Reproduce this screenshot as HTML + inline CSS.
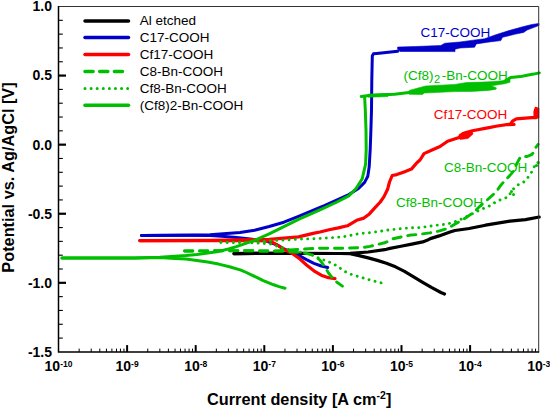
<!DOCTYPE html>
<html><head><meta charset="utf-8"><style>html,body{margin:0;padding:0;background:#fff;width:550px;height:410px;overflow:hidden}svg{display:block}</style></head>
<body>
<svg width="550" height="410" viewBox="0 0 550 410">
<rect width="550" height="410" fill="#fff"/>
<g><polyline points="234.0,253.6 270.0,253.3 340.0,253.5 350.0,253.6 359.1,255.6 368.2,257.9 377.3,260.4 386.4,263.2 395.5,266.8 404.5,271.4 413.6,276.8 422.7,282.3 431.8,287.7 440.9,292.5 444.5,294.0" fill="none" stroke="#000000" stroke-width="3.2" stroke-linejoin="round" stroke-linecap="round" />
<polyline points="234.0,253.6 270.0,253.3 340.0,253.5 350.0,253.3 368.2,252.0 386.4,249.3 390.0,248.4 400.9,246.3 411.8,244.1 422.7,241.9 427.1,240.3 430.3,238.6 439.1,235.9 450.0,232.1 455.0,230.5 469.1,228.5 485.5,225.2 510.0,221.1 525.5,219.6 539.2,217.0" fill="none" stroke="#000000" stroke-width="3.2" stroke-linejoin="round" stroke-linecap="round" />
<polyline points="141.4,235.6 180.0,235.3 210.0,235.6 221.8,236.2 236.4,237.6 248.0,238.8 265.0,240.6 277.3,245.0 284.6,249.2 291.9,252.3 299.2,255.6 306.5,259.6 313.9,263.3 321.2,266.0 327.7,267.5" fill="none" stroke="#0000c8" stroke-width="3.0" stroke-linejoin="round" stroke-linecap="round" />
<polyline points="141.4,235.6 180.0,235.2 210.0,234.8 240.0,232.4 254.6,230.2 269.2,226.5 283.9,222.2 298.5,216.3 320.0,207.3 324.4,205.6 348.8,194.6 358.5,188.5 364.6,182.4 367.8,176.3 369.2,166.6 370.2,149.5 370.9,130.0 371.5,110.0 371.8,80.0 372.3,56.0 373.4,53.8 379.1,53.2 397.6,51.3" fill="none" stroke="#0000c8" stroke-width="3.0" stroke-linejoin="round" stroke-linecap="round" />
<polygon points="397.6,47.1 415.5,46.5 440.9,45.5 444.7,43.3 460.0,42.0 471.4,40.4 484.5,38.8 495.9,34.7 509.0,30.6 523.7,26.5 531.9,24.5 539.0,23.4 539.0,25.4 533.6,27.6 527.0,30.1 523.7,32.4 515.6,34.1 502.5,37.3 500.8,40.6 487.7,42.2 476.3,43.9 474.6,47.2 460.0,48.0 455.0,49.2 455.0,51.6 428.0,51.5 400.0,51.5 397.6,49.3" fill="#0000c8" stroke="#0000c8" stroke-width="0.6" stroke-linejoin="round"/>
<polyline points="139.8,240.6 210.0,240.6 270.0,240.8 277.3,245.2 284.6,249.6 291.9,253.3 299.2,258.4 306.5,265.0 313.9,270.8 321.2,275.2 328.5,277.7 335.0,278.6" fill="none" stroke="#ff0000" stroke-width="3.2" stroke-linejoin="round" stroke-linecap="round" />
<polyline points="139.8,240.6 210.0,240.4 240.0,239.8 269.2,239.4 283.9,238.2 298.5,236.9 313.1,233.4 320.0,232.0 329.1,229.7 338.3,227.9 347.4,225.8 356.6,220.3 363.9,218.1 369.4,213.9 374.8,207.9 380.3,202.0 384.0,196.6 387.6,189.3 389.5,182.0 392.2,175.5 396.8,174.6 404.1,171.9 411.4,169.1 416.9,162.7 420.0,160.0 424.0,153.6 432.0,150.0 440.0,146.5 447.6,141.2 459.1,137.4 462.9,133.6 472.4,130.7 487.7,127.9 497.3,126.0 510.6,124.0 512.5,121.2 516.3,118.9 531.6,117.7 536.0,117.7 535.0,112.0 536.0,108.5" fill="none" stroke="#ff0000" stroke-width="3.2" stroke-linejoin="round" stroke-linecap="round" />
<polygon points="459.0,134.5 466.0,131.5 472.0,131.0 473.0,134.0 468.0,138.5 460.0,139.5" fill="#ff0000" stroke="#ff0000" stroke-width="0.6" stroke-linejoin="round"/>
<polygon points="533.5,117.5 534.5,110.0 536.5,107.8 539.0,108.0 539.0,118.3" fill="#ff0000" stroke="#ff0000" stroke-width="0.6" stroke-linejoin="round"/>
<polyline points="508.0,124.6 514.0,124.4" fill="none" stroke="#ff0000" stroke-width="3.2" stroke-linejoin="round" stroke-linecap="round" />
<polyline points="184.6,251.0 200.0,250.9 240.0,250.6 270.0,251.1 290.0,251.5 306.5,253.3 313.9,255.5 319.7,259.9 324.1,265.7 328.5,273.0 334.3,280.3 342.4,286.2" fill="none" stroke="#00be00" stroke-width="2.9" stroke-linejoin="round" stroke-linecap="round" stroke-dasharray="8.2,6.8"/>
<polyline points="184.6,251.0 200.0,250.9 240.0,250.6 270.0,251.1 318.8,248.2 340.0,248.3 361.8,247.6 370.0,246.4 385.6,242.5 393.0,238.8 409.0,235.3 420.0,234.2 429.8,232.9 439.6,230.9 447.8,228.5 456.0,223.6 465.8,217.8 474.0,212.1 480.6,205.5 485.5,201.5 492.0,195.7 496.9,190.8 500.7,185.4 504.4,181.0 509.5,175.9 513.9,170.7 516.9,163.4 520.5,156.8 527.1,156.5 531.5,154.6 534.4,151.7 535.9,147.3 538.1,144.4" fill="none" stroke="#00be00" stroke-width="2.9" stroke-linejoin="round" stroke-linecap="round" stroke-dasharray="8.2,6.8"/>
<polyline points="220.9,242.3 250.0,242.6 270.0,243.8 278.8,246.7 289.0,249.6 300.0,252.0 313.9,255.5 321.2,259.3 326.6,260.8 334.3,264.4 340.8,268.6 345.2,271.6 350.0,274.0 359.1,276.8 368.2,279.5 377.3,281.9 382.7,283.2" fill="none" stroke="#00be00" stroke-width="2.9" stroke-linejoin="round" stroke-linecap="round" stroke-dasharray="0.01,6.2"/>
<polyline points="220.9,242.3 250.0,242.4 270.0,240.6 284.6,240.1 299.2,239.1 313.9,238.7 328.5,237.9 343.1,236.8 360.0,233.5 370.0,232.7 389.5,229.8 409.0,227.9 420.0,227.6 436.4,225.2 444.5,224.4 452.7,222.7 462.6,218.6 472.4,213.7 480.6,209.6 488.7,206.4 495.3,202.3 501.8,199.0 508.1,197.1 512.5,189.8 516.9,185.4 524.2,181.7 528.6,176.6 531.5,172.2 534.4,166.4 538.1,162.7" fill="none" stroke="#00be00" stroke-width="2.9" stroke-linejoin="round" stroke-linecap="round" stroke-dasharray="0.01,6.2"/>
<circle cx="538.1" cy="162.6" r="1.6" fill="#00be00"/>
<circle cx="536.5" cy="165.5" r="1.6" fill="#00be00"/>
<circle cx="511.5" cy="191.5" r="1.5" fill="#00be00"/>
<circle cx="513.5" cy="194.5" r="1.5" fill="#00be00"/>
<polyline points="62.0,257.9 135.0,257.9 160.0,257.6 175.0,258.4 185.9,259.1 196.8,260.4 207.7,262.1 218.6,264.1 229.5,266.7 240.9,270.1 246.4,272.5 251.8,275.1 257.3,277.6 262.7,280.3 268.2,282.7 273.6,284.8 279.1,286.6 285.0,288.2" fill="none" stroke="#00be00" stroke-width="3.0" stroke-linejoin="round" stroke-linecap="round" />
<polyline points="62.0,257.9 135.0,257.9 160.0,257.2 175.0,256.3 185.9,255.6 196.8,254.5 207.7,253.1 218.6,251.4 229.5,248.7 236.4,246.6 254.6,240.4 269.2,233.9 283.9,226.6 298.5,219.3 320.0,209.9 336.0,202.5 348.8,195.9 356.1,188.5 362.2,178.8 365.6,164.1 366.2,149.5 366.0,130.0 365.3,110.0 364.6,96.5" fill="none" stroke="#00be00" stroke-width="3.0" stroke-linejoin="round" stroke-linecap="round" />
<polyline points="361.2,96.4 368.9,95.6 394.5,94.2 409.2,92.6" fill="none" stroke="#00be00" stroke-width="3.0" stroke-linejoin="round" stroke-linecap="round" />
<polygon points="368.0,94.2 388.0,93.4 388.0,96.6 368.0,97.2" fill="#00be00" stroke="#00be00" stroke-width="0.6" stroke-linejoin="round"/>
<polygon points="409.2,90.4 425.5,86.0 455.0,84.4 466.4,82.6 482.7,82.1 493.6,81.6 510.0,79.9 510.0,82.2 504.5,83.8 491.4,85.8 496.6,88.0 495.5,89.4 488.2,90.4 471.8,91.4 455.0,91.6 424.4,93.0 422.3,94.6 409.2,94.3" fill="#00be00" stroke="#00be00" stroke-width="0.6" stroke-linejoin="round"/>
<polyline points="505.0,81.0 510.6,77.6 520.5,76.6 527.0,75.2 533.6,74.1 539.3,72.9" fill="none" stroke="#00be00" stroke-width="3.0" stroke-linejoin="round" stroke-linecap="round" /></g>
<path d="M58.5,6.5 H538.6999999999999 V351.9" fill="none" stroke="#333" stroke-width="1"/>
<path d="M58.5,6.0 V351.9 H539.1999999999999" fill="none" stroke="#000" stroke-width="1.5"/>
<line x1="58.5" y1="20.32" x2="62.8" y2="20.32" stroke="#000" stroke-width="1.1"/>
<line x1="58.5" y1="34.13" x2="62.8" y2="34.13" stroke="#000" stroke-width="1.1"/>
<line x1="58.5" y1="47.95" x2="62.8" y2="47.95" stroke="#000" stroke-width="1.1"/>
<line x1="58.5" y1="61.76" x2="62.8" y2="61.76" stroke="#000" stroke-width="1.1"/>
<line x1="58.5" y1="75.58" x2="66.0" y2="75.58" stroke="#000" stroke-width="2.2"/>
<line x1="58.5" y1="89.40" x2="62.8" y2="89.40" stroke="#000" stroke-width="1.1"/>
<line x1="58.5" y1="103.21" x2="62.8" y2="103.21" stroke="#000" stroke-width="1.1"/>
<line x1="58.5" y1="117.03" x2="62.8" y2="117.03" stroke="#000" stroke-width="1.1"/>
<line x1="58.5" y1="130.84" x2="62.8" y2="130.84" stroke="#000" stroke-width="1.1"/>
<line x1="58.5" y1="144.66" x2="66.0" y2="144.66" stroke="#000" stroke-width="2.2"/>
<line x1="58.5" y1="158.48" x2="62.8" y2="158.48" stroke="#000" stroke-width="1.1"/>
<line x1="58.5" y1="172.29" x2="62.8" y2="172.29" stroke="#000" stroke-width="1.1"/>
<line x1="58.5" y1="186.11" x2="62.8" y2="186.11" stroke="#000" stroke-width="1.1"/>
<line x1="58.5" y1="199.92" x2="62.8" y2="199.92" stroke="#000" stroke-width="1.1"/>
<line x1="58.5" y1="213.74" x2="66.0" y2="213.74" stroke="#000" stroke-width="2.2"/>
<line x1="58.5" y1="227.56" x2="62.8" y2="227.56" stroke="#000" stroke-width="1.1"/>
<line x1="58.5" y1="241.37" x2="62.8" y2="241.37" stroke="#000" stroke-width="1.1"/>
<line x1="58.5" y1="255.19" x2="62.8" y2="255.19" stroke="#000" stroke-width="1.1"/>
<line x1="58.5" y1="269.00" x2="62.8" y2="269.00" stroke="#000" stroke-width="1.1"/>
<line x1="58.5" y1="282.82" x2="66.0" y2="282.82" stroke="#000" stroke-width="2.2"/>
<line x1="58.5" y1="296.64" x2="62.8" y2="296.64" stroke="#000" stroke-width="1.1"/>
<line x1="58.5" y1="310.45" x2="62.8" y2="310.45" stroke="#000" stroke-width="1.1"/>
<line x1="58.5" y1="324.27" x2="62.8" y2="324.27" stroke="#000" stroke-width="1.1"/>
<line x1="58.5" y1="338.08" x2="62.8" y2="338.08" stroke="#000" stroke-width="1.1"/>
<line x1="79.15" y1="351.9" x2="79.15" y2="348.59999999999997" stroke="#000" stroke-width="1"/>
<line x1="91.23" y1="351.9" x2="91.23" y2="348.59999999999997" stroke="#000" stroke-width="1"/>
<line x1="99.80" y1="351.9" x2="99.80" y2="348.59999999999997" stroke="#000" stroke-width="1"/>
<line x1="106.45" y1="351.9" x2="106.45" y2="348.59999999999997" stroke="#000" stroke-width="1"/>
<line x1="111.88" y1="351.9" x2="111.88" y2="348.59999999999997" stroke="#000" stroke-width="1"/>
<line x1="116.47" y1="351.9" x2="116.47" y2="348.59999999999997" stroke="#000" stroke-width="1"/>
<line x1="120.45" y1="351.9" x2="120.45" y2="348.59999999999997" stroke="#000" stroke-width="1"/>
<line x1="123.96" y1="351.9" x2="123.96" y2="348.59999999999997" stroke="#000" stroke-width="1"/>
<line x1="127.10" y1="351.9" x2="127.10" y2="345.09999999999997" stroke="#000" stroke-width="2"/>
<line x1="147.75" y1="351.9" x2="147.75" y2="348.59999999999997" stroke="#000" stroke-width="1"/>
<line x1="159.83" y1="351.9" x2="159.83" y2="348.59999999999997" stroke="#000" stroke-width="1"/>
<line x1="168.40" y1="351.9" x2="168.40" y2="348.59999999999997" stroke="#000" stroke-width="1"/>
<line x1="175.05" y1="351.9" x2="175.05" y2="348.59999999999997" stroke="#000" stroke-width="1"/>
<line x1="180.48" y1="351.9" x2="180.48" y2="348.59999999999997" stroke="#000" stroke-width="1"/>
<line x1="185.07" y1="351.9" x2="185.07" y2="348.59999999999997" stroke="#000" stroke-width="1"/>
<line x1="189.05" y1="351.9" x2="189.05" y2="348.59999999999997" stroke="#000" stroke-width="1"/>
<line x1="192.56" y1="351.9" x2="192.56" y2="348.59999999999997" stroke="#000" stroke-width="1"/>
<line x1="195.70" y1="351.9" x2="195.70" y2="345.09999999999997" stroke="#000" stroke-width="2"/>
<line x1="216.35" y1="351.9" x2="216.35" y2="348.59999999999997" stroke="#000" stroke-width="1"/>
<line x1="228.43" y1="351.9" x2="228.43" y2="348.59999999999997" stroke="#000" stroke-width="1"/>
<line x1="237.00" y1="351.9" x2="237.00" y2="348.59999999999997" stroke="#000" stroke-width="1"/>
<line x1="243.65" y1="351.9" x2="243.65" y2="348.59999999999997" stroke="#000" stroke-width="1"/>
<line x1="249.08" y1="351.9" x2="249.08" y2="348.59999999999997" stroke="#000" stroke-width="1"/>
<line x1="253.67" y1="351.9" x2="253.67" y2="348.59999999999997" stroke="#000" stroke-width="1"/>
<line x1="257.65" y1="351.9" x2="257.65" y2="348.59999999999997" stroke="#000" stroke-width="1"/>
<line x1="261.16" y1="351.9" x2="261.16" y2="348.59999999999997" stroke="#000" stroke-width="1"/>
<line x1="264.30" y1="351.9" x2="264.30" y2="345.09999999999997" stroke="#000" stroke-width="2"/>
<line x1="284.95" y1="351.9" x2="284.95" y2="348.59999999999997" stroke="#000" stroke-width="1"/>
<line x1="297.03" y1="351.9" x2="297.03" y2="348.59999999999997" stroke="#000" stroke-width="1"/>
<line x1="305.60" y1="351.9" x2="305.60" y2="348.59999999999997" stroke="#000" stroke-width="1"/>
<line x1="312.25" y1="351.9" x2="312.25" y2="348.59999999999997" stroke="#000" stroke-width="1"/>
<line x1="317.68" y1="351.9" x2="317.68" y2="348.59999999999997" stroke="#000" stroke-width="1"/>
<line x1="322.27" y1="351.9" x2="322.27" y2="348.59999999999997" stroke="#000" stroke-width="1"/>
<line x1="326.25" y1="351.9" x2="326.25" y2="348.59999999999997" stroke="#000" stroke-width="1"/>
<line x1="329.76" y1="351.9" x2="329.76" y2="348.59999999999997" stroke="#000" stroke-width="1"/>
<line x1="332.90" y1="351.9" x2="332.90" y2="345.09999999999997" stroke="#000" stroke-width="2"/>
<line x1="353.55" y1="351.9" x2="353.55" y2="348.59999999999997" stroke="#000" stroke-width="1"/>
<line x1="365.63" y1="351.9" x2="365.63" y2="348.59999999999997" stroke="#000" stroke-width="1"/>
<line x1="374.20" y1="351.9" x2="374.20" y2="348.59999999999997" stroke="#000" stroke-width="1"/>
<line x1="380.85" y1="351.9" x2="380.85" y2="348.59999999999997" stroke="#000" stroke-width="1"/>
<line x1="386.28" y1="351.9" x2="386.28" y2="348.59999999999997" stroke="#000" stroke-width="1"/>
<line x1="390.87" y1="351.9" x2="390.87" y2="348.59999999999997" stroke="#000" stroke-width="1"/>
<line x1="394.85" y1="351.9" x2="394.85" y2="348.59999999999997" stroke="#000" stroke-width="1"/>
<line x1="398.36" y1="351.9" x2="398.36" y2="348.59999999999997" stroke="#000" stroke-width="1"/>
<line x1="401.50" y1="351.9" x2="401.50" y2="345.09999999999997" stroke="#000" stroke-width="2"/>
<line x1="422.15" y1="351.9" x2="422.15" y2="348.59999999999997" stroke="#000" stroke-width="1"/>
<line x1="434.23" y1="351.9" x2="434.23" y2="348.59999999999997" stroke="#000" stroke-width="1"/>
<line x1="442.80" y1="351.9" x2="442.80" y2="348.59999999999997" stroke="#000" stroke-width="1"/>
<line x1="449.45" y1="351.9" x2="449.45" y2="348.59999999999997" stroke="#000" stroke-width="1"/>
<line x1="454.88" y1="351.9" x2="454.88" y2="348.59999999999997" stroke="#000" stroke-width="1"/>
<line x1="459.47" y1="351.9" x2="459.47" y2="348.59999999999997" stroke="#000" stroke-width="1"/>
<line x1="463.45" y1="351.9" x2="463.45" y2="348.59999999999997" stroke="#000" stroke-width="1"/>
<line x1="466.96" y1="351.9" x2="466.96" y2="348.59999999999997" stroke="#000" stroke-width="1"/>
<line x1="470.10" y1="351.9" x2="470.10" y2="345.09999999999997" stroke="#000" stroke-width="2"/>
<line x1="490.75" y1="351.9" x2="490.75" y2="348.59999999999997" stroke="#000" stroke-width="1"/>
<line x1="502.83" y1="351.9" x2="502.83" y2="348.59999999999997" stroke="#000" stroke-width="1"/>
<line x1="511.40" y1="351.9" x2="511.40" y2="348.59999999999997" stroke="#000" stroke-width="1"/>
<line x1="518.05" y1="351.9" x2="518.05" y2="348.59999999999997" stroke="#000" stroke-width="1"/>
<line x1="523.48" y1="351.9" x2="523.48" y2="348.59999999999997" stroke="#000" stroke-width="1"/>
<line x1="528.07" y1="351.9" x2="528.07" y2="348.59999999999997" stroke="#000" stroke-width="1"/>
<line x1="532.05" y1="351.9" x2="532.05" y2="348.59999999999997" stroke="#000" stroke-width="1"/>
<line x1="535.56" y1="351.9" x2="535.56" y2="348.59999999999997" stroke="#000" stroke-width="1"/>
<text x="52" y="11.3" text-anchor="end" style="font-family:'Liberation Sans',sans-serif;font-weight:bold;font-size:14px">1.0</text>
<text x="52" y="80.4" text-anchor="end" style="font-family:'Liberation Sans',sans-serif;font-weight:bold;font-size:14px">0.5</text>
<text x="52" y="149.5" text-anchor="end" style="font-family:'Liberation Sans',sans-serif;font-weight:bold;font-size:14px">0.0</text>
<text x="52" y="218.5" text-anchor="end" style="font-family:'Liberation Sans',sans-serif;font-weight:bold;font-size:14px">-0.5</text>
<text x="52" y="287.6" text-anchor="end" style="font-family:'Liberation Sans',sans-serif;font-weight:bold;font-size:14px">-1.0</text>
<text x="52" y="356.7" text-anchor="end" style="font-family:'Liberation Sans',sans-serif;font-weight:bold;font-size:14px">-1.5</text>
<text x="58.5" y="371.2" text-anchor="middle" style="font-family:'Liberation Sans',sans-serif;font-weight:bold;font-size:14px">10<tspan dy="-4.4" style="font-size:8.5px">-10</tspan></text>
<text x="127.1" y="371.2" text-anchor="middle" style="font-family:'Liberation Sans',sans-serif;font-weight:bold;font-size:14px">10<tspan dy="-4.4" style="font-size:8.5px">-9</tspan></text>
<text x="195.7" y="371.2" text-anchor="middle" style="font-family:'Liberation Sans',sans-serif;font-weight:bold;font-size:14px">10<tspan dy="-4.4" style="font-size:8.5px">-8</tspan></text>
<text x="264.3" y="371.2" text-anchor="middle" style="font-family:'Liberation Sans',sans-serif;font-weight:bold;font-size:14px">10<tspan dy="-4.4" style="font-size:8.5px">-7</tspan></text>
<text x="332.9" y="371.2" text-anchor="middle" style="font-family:'Liberation Sans',sans-serif;font-weight:bold;font-size:14px">10<tspan dy="-4.4" style="font-size:8.5px">-6</tspan></text>
<text x="401.5" y="371.2" text-anchor="middle" style="font-family:'Liberation Sans',sans-serif;font-weight:bold;font-size:14px">10<tspan dy="-4.4" style="font-size:8.5px">-5</tspan></text>
<text x="470.1" y="371.2" text-anchor="middle" style="font-family:'Liberation Sans',sans-serif;font-weight:bold;font-size:14px">10<tspan dy="-4.4" style="font-size:8.5px">-4</tspan></text>
<text x="538.7" y="371.2" text-anchor="middle" style="font-family:'Liberation Sans',sans-serif;font-weight:bold;font-size:14px">10<tspan dy="-4.4" style="font-size:8.5px">-3</tspan></text>
<text x="299.2" y="405.3" text-anchor="middle" style="font-family:'Liberation Sans',sans-serif;font-weight:bold;font-size:16.3px">Current density [A cm<tspan dy="-6" style="font-size:10.5px">-2</tspan><tspan dy="6">]</tspan></text>
<text transform="translate(13.6,177.5) rotate(-90)" text-anchor="middle" style="font-family:'Liberation Sans',sans-serif;font-weight:bold;font-size:16.3px">Potential vs. Ag/AgCl [V]</text>
<line x1="85" y1="20.9" x2="128.5" y2="20.9" stroke="#000000" stroke-width="3.5" stroke-linecap="round" />
<text x="139.8" y="25.2" style="font-family:'Liberation Sans',sans-serif;font-size:13.5px" fill="#000">Al etched</text>
<line x1="85" y1="37.6" x2="128.5" y2="37.6" stroke="#0000c8" stroke-width="3.5" stroke-linecap="round" />
<text x="139.8" y="41.9" style="font-family:'Liberation Sans',sans-serif;font-size:13.5px" fill="#000">C17-COOH</text>
<line x1="85" y1="54.55" x2="128.5" y2="54.55" stroke="#ff0000" stroke-width="3.5" stroke-linecap="round" />
<text x="139.8" y="58.8" style="font-family:'Liberation Sans',sans-serif;font-size:13.5px" fill="#000">Cf17-COOH</text>
<line x1="85" y1="71.5" x2="128.5" y2="71.5" stroke="#00be00" stroke-width="3.5" stroke-linecap="round" stroke-dasharray="8.1,6.6"/>
<text x="139.8" y="75.8" style="font-family:'Liberation Sans',sans-serif;font-size:13.5px" fill="#000">C8-Bn-COOH</text>
<line x1="85" y1="88.5" x2="128.5" y2="88.5" stroke="#00be00" stroke-width="3.0" stroke-linecap="round" stroke-dasharray="0.01,6.08"/>
<text x="139.8" y="92.8" style="font-family:'Liberation Sans',sans-serif;font-size:13.5px" fill="#000">Cf8-Bn-COOH</text>
<line x1="85" y1="105.3" x2="128.5" y2="105.3" stroke="#00be00" stroke-width="3.5" stroke-linecap="round" />
<text x="139.8" y="109.6" style="font-family:'Liberation Sans',sans-serif;font-size:13.5px" fill="#000">(Cf8)2-Bn-COOH</text>
<text x="420.6" y="36.8" style="font-family:'Liberation Sans',sans-serif;font-size:13.5px" fill="#0000c8">C17-COOH</text>
<text x="403.6" y="79.6" style="font-family:'Liberation Sans',sans-serif;font-size:13.5px" fill="#00be00">(Cf8)<tspan x="434" y="82.8" style="font-size:11px">2</tspan><tspan x="441.7" y="79.6">-Bn-COOH</tspan></text>
<text x="433.8" y="119.0" style="font-family:'Liberation Sans',sans-serif;font-size:13.5px" fill="#ff0000">Cf17-COOH</text>
<text x="443.9" y="172.1" style="font-family:'Liberation Sans',sans-serif;font-size:13.5px" fill="#00be00">C8-Bn-COOH</text>
<text x="396.1" y="206.8" style="font-family:'Liberation Sans',sans-serif;font-size:13.5px" fill="#00be00">Cf8-Bn-COOH</text>
</svg>
</body></html>
